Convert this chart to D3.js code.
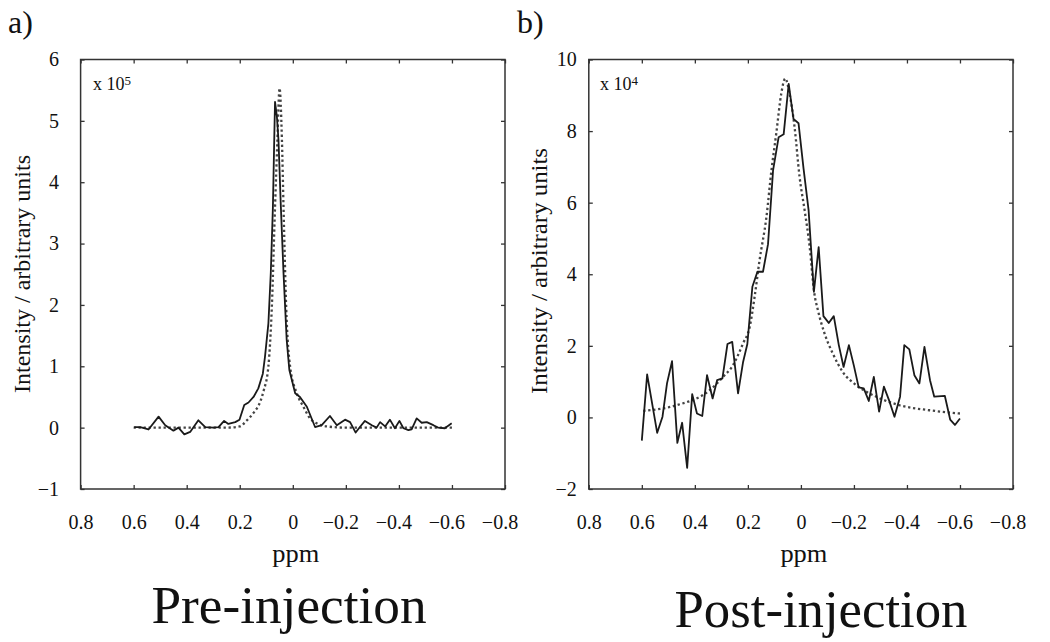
<!DOCTYPE html>
<html>
<head>
<meta charset="utf-8">
<script src="https://cdn.jsdelivr.net/npm/d3@7"></script>
<style>
  html, body { margin: 0; padding: 0; background: #fff; }
  svg { display: block; }
  svg text { font-family: "Liberation Serif", "DejaVu Serif", "Noto Serif", "Tinos", "FreeSerif", "Times New Roman", Times, serif !important; }
</style>
</head>
<body>
<svg id="chart" width="1050" height="642"></svg>
<script>
// ---------- DATA ----------
const xTicks = [0.8, 0.6, 0.4, 0.2, 0, -0.2, -0.4, -0.6, -0.8];
const preYTicks = [-1, 0, 1, 2, 3, 4, 5, 6];
const postYTicks = [-2, 0, 2, 4, 6, 8, 10];

// a) Pre-injection, measured spectrum (x 10^5)
const preX = [0.598, 0.575, 0.544, 0.506, 0.481, 0.45, 0.431, 0.409, 0.387, 0.356, 0.33, 0.299, 0.28, 0.259, 0.243, 0.217, 0.201, 0.183, 0.167, 0.148, 0.13, 0.113, 0.105, 0.092, 0.083, 0.075, 0.07, 0.067, 0.06, 0.054, 0.045, 0.035, 0.023, 0.013, -0.009, -0.027, -0.053, -0.084, -0.109, -0.14, -0.166, -0.197, -0.216, -0.237, -0.253, -0.272, -0.298, -0.316, -0.329, -0.348, -0.366, -0.385, -0.402, -0.417, -0.436, -0.448, -0.467, -0.486, -0.505, -0.53, -0.548, -0.573, -0.599];
const preY = [0.01, 0.01, -0.03, 0.18, 0.04, -0.05, 0.0, -0.11, -0.07, 0.12, 0.01, 0.0, 0.01, 0.11, 0.06, 0.09, 0.13, 0.37, 0.41, 0.5, 0.64, 0.88, 1.15, 1.7, 2.52, 3.6, 4.69, 5.31, 5.07, 4.69, 3.6, 2.52, 1.43, 0.94, 0.56, 0.5, 0.34, 0.01, 0.04, 0.19, 0.04, 0.13, 0.09, -0.08, 0.01, 0.11, 0.04, 0.0, 0.09, 0.02, 0.13, -0.01, 0.11, -0.01, -0.04, -0.03, 0.15, 0.08, 0.09, 0.04, 0.0, -0.01, 0.07];

// a) Pre-injection, fitted curve
const preFitX = [0.6, 0.5, 0.4, 0.3, 0.25, 0.2, 0.173, 0.148, 0.123, 0.11, 0.092, 0.079, 0.067, 0.058, 0.05, 0.041, 0.035, 0.025, 0.01, -0.015, -0.04, -0.065, -0.09, -0.128, -0.2, -0.3, -0.4, -0.5, -0.6];
const preFitY = [0.0, 0.0, 0.0, 0.0, 0.0, 0.02, 0.12, 0.24, 0.42, 0.6, 1.0, 1.97, 3.6, 4.69, 5.53, 4.69, 3.6, 1.97, 0.99, 0.56, 0.34, 0.15, 0.07, 0.02, 0.0, 0.0, 0.0, 0.0, 0.0];

// b) Post-injection, measured spectrum (x 10^4)
const postX = [0.6, 0.58, 0.542, 0.522, 0.505, 0.486, 0.466, 0.448, 0.429, 0.41, 0.392, 0.372, 0.354, 0.333, 0.316, 0.296, 0.277, 0.259, 0.237, 0.218, 0.202, 0.183, 0.164, 0.143, 0.124, 0.105, 0.084, 0.065, 0.046, 0.028, 0.009, -0.01, -0.029, -0.049, -0.067, -0.085, -0.105, -0.124, -0.143, -0.161, -0.181, -0.2, -0.218, -0.237, -0.256, -0.275, -0.295, -0.313, -0.333, -0.353, -0.374, -0.39, -0.409, -0.428, -0.447, -0.466, -0.487, -0.503, -0.543, -0.563, -0.581, -0.6];
const postY = [-0.65, 1.2, -0.43, 0.02, 0.95, 1.57, -0.71, -0.15, -1.41, 0.65, 0.11, 0.04, 1.18, 0.53, 1.04, 1.09, 2.05, 2.11, 0.67, 1.55, 2.05, 3.65, 4.07, 4.07, 4.84, 6.9, 7.83, 7.91, 9.32, 8.34, 8.22, 6.95, 5.79, 3.51, 4.76, 2.83, 2.64, 2.83, 2.02, 1.41, 2.02, 1.44, 0.84, 0.81, 0.46, 1.13, 0.16, 0.86, 0.47, 0.02, 0.58, 2.02, 1.9, 1.18, 0.95, 1.97, 1.04, 0.58, 0.6, -0.06, -0.21, -0.03];

// b) Post-injection, fitted curve
const postFitX = [0.6, 0.469, 0.344, 0.294, 0.256, 0.218, 0.193, 0.174, 0.156, 0.13, 0.111, 0.093, 0.074, 0.059, 0.043, 0.024, 0.005, -0.014, -0.033, -0.05, -0.064, -0.089, -0.12, -0.158, -0.209, -0.284, -0.372, -0.485, -0.6];
const postFitY = [0.18, 0.34, 0.76, 1.13, 1.46, 2.07, 2.53, 3.4, 4.39, 5.6, 6.91, 7.93, 9.05, 9.47, 9.05, 8.12, 6.72, 5.79, 4.77, 3.5, 3.0, 2.35, 1.79, 1.27, 0.9, 0.58, 0.34, 0.2, 0.11];

// ---------- DRAW ----------
const svg = d3.select("#chart");
svg.append("rect").attr("width", 1050).attr("height", 642).attr("fill", "#fff");
const fmt = d => d < 0 ? "\u2212" + Math.abs(d) : String(d);

const panels = [
  { letter: "a)", letterX: 8, x0: 80.6, x1: 505, yDom: [-1, 6], yTicks: preYTicks, yPad: 21.5,
    exp: "5", expX: 93, yTitleX: 30, yTitleY: 274, yTitleLen: 238,
    title: "Pre-injection", titleX: 289, titleY: 623, titleLen: 275,
    data: preX.map((x, i) => [x, preY[i]]), fit: preFitX.map((x, i) => [x, preFitY[i]]) },
  { letter: "b)", letterX: 517, x0: 588.8, x1: 1013, yDom: [-2, 10], yTicks: postYTicks, yPad: 12,
    exp: "4", expX: 600, yTitleX: 547, yTitleY: 271, yTitleLen: 246,
    title: "Post-injection", titleX: 821, titleY: 627, titleLen: 293,
    data: postX.map((x, i) => [x, postY[i]]), fit: postFitX.map((x, i) => [x, postFitY[i]]) }
];

const plotTop = 59.5, plotBottom = 489;

panels.forEach(p => {
  const x = d3.scaleLinear().domain([0.8, -0.8]).range([p.x0, p.x1]);
  const y = d3.scaleLinear().domain(p.yDom).range([plotBottom, plotTop]);
  const g = svg.append("g");

  const styleAxis = sel => {
    sel.select(".domain").remove();
    sel.selectAll(".tick line").attr("stroke", "#333").attr("stroke-width", 1.3);
    sel.attr("font-family", null).attr("font-size", 20);
    sel.selectAll(".tick text").attr("fill", "#111");
  };

  g.append("g").attr("transform", `translate(0,${plotBottom})`)
    .call(d3.axisBottom(x).tickValues(xTicks).tickSize(-4).tickPadding(26).tickFormat(fmt))
    .call(styleAxis)
    .call(s => s.selectAll(".tick text").attr("dx", d => d < 0 ? -5.5 : 0));
  g.append("g").attr("transform", `translate(0,${plotTop})`)
    .call(d3.axisTop(x).tickValues(xTicks).tickSize(-4).tickFormat(""))
    .call(styleAxis);
  g.append("g").attr("transform", `translate(${p.x0},0)`)
    .call(d3.axisLeft(y).tickValues(p.yTicks).tickSize(-4).tickPadding(p.yPad).tickFormat(fmt))
    .call(styleAxis);
  g.append("g").attr("transform", `translate(${p.x1},0)`)
    .call(d3.axisRight(y).tickValues(p.yTicks).tickSize(-4).tickFormat(""))
    .call(styleAxis);

  g.append("rect").attr("x", p.x0).attr("y", plotTop)
    .attr("width", p.x1 - p.x0).attr("height", plotBottom - plotTop)
    .attr("fill", "none").attr("stroke", "#333").attr("stroke-width", 1.5);

  const line = d3.line().x(d => x(d[0])).y(d => y(d[1]));
  const fitLine = d3.line().x(d => x(d[0])).y(d => y(d[1])).curve(d3.curveMonotoneX);

  g.append("path").datum(p.fit.slice().sort((a, b) => a[0] - b[0]))
    .attr("d", fitLine).attr("fill", "none").attr("stroke", "#444")
    .attr("stroke-width", 2.3).attr("stroke-dasharray", "2.3,2.7");
  g.append("path").datum(p.data)
    .attr("d", line).attr("fill", "none").attr("stroke", "#1a1a1a")
    .attr("stroke-width", 1.8).attr("stroke-linejoin", "round");

  // exponent label
  const ex = g.append("text").attr("x", p.expX).attr("y", 90)
    .attr("font-size", 18).attr("fill", "#111");
  ex.append("tspan").text("x 10");
  ex.append("tspan").attr("font-size", 13).attr("dy", -5).text(p.exp);

  // y-axis title
  g.append("text").attr("transform", `translate(${p.yTitleX},${p.yTitleY}) rotate(-90)`)
    .attr("text-anchor", "middle").attr("font-size", 23)
    .attr("textLength", p.yTitleLen).attr("lengthAdjust", "spacingAndGlyphs")
    .attr("fill", "#111").text("Intensity / arbitrary units");

  // x-axis title
  g.append("text").attr("x", (p.x0 + p.x1) / 2 + 3).attr("y", 562)
    .attr("text-anchor", "middle").attr("font-size", 26)
    .attr("textLength", 47).attr("lengthAdjust", "spacingAndGlyphs")
    .attr("fill", "#111").text("ppm");

  // panel letter
  g.append("text").attr("x", p.letterX).attr("y", 33)
    .attr("font-size", 32).attr("fill", "#111").text(p.letter);

  // big caption
  g.append("text").attr("x", p.titleX).attr("y", p.titleY)
    .attr("text-anchor", "middle").attr("font-size", 53)
    .attr("textLength", p.titleLen).attr("lengthAdjust", "spacingAndGlyphs")
    .attr("fill", "#111").text(p.title);
});
</script>
</body>
</html>
